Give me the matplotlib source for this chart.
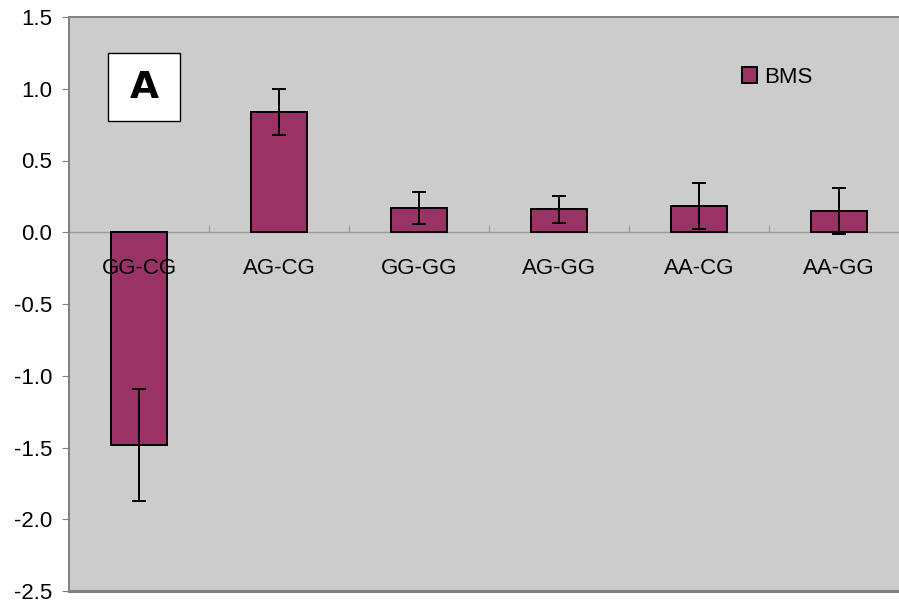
import matplotlib
matplotlib.use("Agg")
import matplotlib.pyplot as plt
from matplotlib.patches import Rectangle
import numpy as np

categories = ["GG-CG", "AG-CG", "GG-GG", "AG-GG", "AA-CG", "AA-GG"]
bms_values = [-1.48, 0.84, 0.17, 0.16, 0.18, 0.15]
bms_errors = [0.39, 0.16, 0.11, 0.093, 0.16, 0.16]
yticks = [-2.5, -2.0, -1.5, -1.0, -0.5, 0.0, 0.5, 1.0, 1.5]

plt.rcParams['font.family'] = ['Liberation Sans', 'DejaVu Sans']

fig = plt.figure(figsize=(8.99, 6.03), dpi=100)
fig.patch.set_facecolor('white')
ax = fig.add_axes([69/899, 12/603, 840/899, 574/603])
ax.set_facecolor('#cccccc')

x = np.arange(len(categories))
ax.bar(x, bms_values, width=0.4, color='#993366', edgecolor='black',
       linewidth=1.4, label='BMS', zorder=3)
ax.errorbar(x, bms_values, yerr=bms_errors, fmt='none', ecolor='black',
            elinewidth=1.4, capsize=5, capthick=1.4, zorder=4)

ax.set_xlim(-0.5, len(categories) - 0.5)
ax.set_ylim(-2.5, 1.5)
ax.set_yticks(yticks)
ax.set_yticklabels([f"{v:.1f}" for v in yticks])

gray = '#808080'
for s in ['left', 'top']:
    ax.spines[s].set_color(gray)
    ax.spines[s].set_linewidth(1.4)
ax.spines['right'].set_visible(False)
ax.spines['bottom'].set_position(('data', 0))
ax.spines['bottom'].set_color('#999999')
ax.spines['bottom'].set_linewidth(1.0)
ax.spines['bottom'].set_zorder(2)
ax.axhline(-2.5, color=gray, linewidth=2.2, clip_on=False, zorder=2)

ax.set_xticks(np.arange(len(categories) + 1) - 0.5)
ax.set_xticklabels([])
ax.tick_params(axis='x', which='major', length=5, color='#999999', direction='in')
ax.tick_params(axis='y', length=5, color=gray, labelsize=16, pad=7)

for xi, name in zip(x, categories):
    ax.text(xi, -0.255, name, fontsize=16, ha='center', va='center', zorder=6)

# "A" panel label box
ax.add_patch(Rectangle((0.0464, 0.819), 0.0857, 0.118, transform=ax.transAxes,
                       facecolor='white', edgecolor='black', linewidth=1.0,
                       zorder=6))
ax.text(0.0893, 0.876, "A", transform=ax.transAxes, fontsize=27,
        fontweight='bold', family='DejaVu Sans', ha='center', va='center',
        zorder=7)

ax.legend(loc='upper left', bbox_to_anchor=(0.801, 0.913), frameon=False,
          fontsize=16, handlelength=0.7, handleheight=0.7,
          handletextpad=0.3, borderaxespad=0, borderpad=0)

fig.savefig("out.png", dpi=100)
